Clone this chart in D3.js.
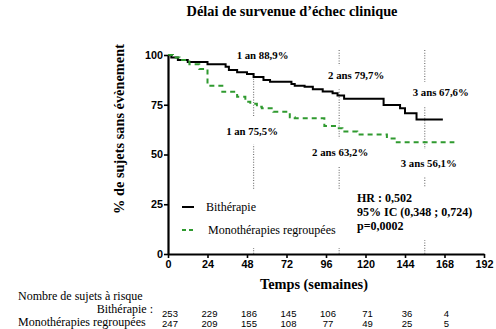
<!DOCTYPE html>
<html><head><meta charset="utf-8">
<script src="https://cdn.jsdelivr.net/npm/d3@7"></script>
<style>body{margin:0;background:#fff}svg{display:block}</style>
</head><body>
<svg id="c" width="496" height="329"></svg>
<script>
const title = "Délai de survenue d’échec clinique";
const yLabel = "% de sujets sans évènement";
const xLabel = "Temps (semaines)";
const xTicks = [0, 24, 48, 72, 96, 120, 144, 168, 192];
const yTicks = [0, 25, 50, 75, 100];

const seriesNames = ["Bithérapie", "Monothérapies regroupées"];
const bithTimes = [0, 2, 6, 12, 24, 35, 37, 42, 48, 52, 58, 62, 75, 77, 83, 88, 94, 100, 103, 107, 131, 141, 144, 151];
const bithSurv  = [100, 98.8, 97.5, 96.5, 95.3, 94.1, 92.5, 91.3, 90.5, 88.9, 87.4, 86.6, 85.4, 84.6, 84.1, 82.8, 81.6, 80.8, 79.7, 78.0, 74.9, 73.2, 70.7, 67.6];
const bithEnd = 167;
const monoTimes = [0, 3, 7, 13, 19, 24, 33, 42, 47, 50, 54, 57, 64, 74, 77, 95, 103, 106, 115, 133, 139];
const monoSurv  = [100, 98.8, 97.5, 95.3, 93, 84.6, 81.5, 79, 76.5, 75.5, 74, 73.2, 71.5, 68.7, 68.2, 64.3, 63.2, 61.5, 60.1, 58.1, 56.1];
const monoEnd = 174;

const markTimes = [52, 104, 156];
const upperLabels = ["1 an 88,9%", "2 ans 79,7%", "3 ans 67,6%"];
const upperValues = [88.9, 79.7, 67.6];
const lowerLabels = ["1 an 75,5%", "2 ans 63,2%", "3 ans 56,1%"];
const lowerValues = [75.5, 63.2, 56.1];

const statsLines = ["HR : 0,502", "95% IC (0,348 ; 0,724)", "p=0,0002"];

const riskTitle = "Nombre de sujets à risque";
const riskTimes = [0, 24, 48, 72, 96, 120, 144, 168];
const riskBith = [253, 229, 186, 145, 106, 71, 36, 4];
const riskMono = [247, 209, 155, 108, 77, 49, 25, 5];

const svg = d3.select("#c");
const x = d3.scaleLinear().domain([0, 192]).range([168, 484]);
const y = d3.scaleLinear().domain([0, 100]).range([254, 55]);
const serif = "'Liberation Serif', 'Times New Roman', serif";
const sans = "'Liberation Sans', Arial, sans-serif";
const green = "#2f9a2f";

function fitText(sel, base, target) {
  sel.attr("font-size", base);
  const w = sel.node().getComputedTextLength();
  sel.attr("font-size", (base * target / w).toFixed(2));
}

// title
fitText(svg.append("text").attr("x", 292).attr("y", 16).attr("text-anchor", "middle")
  .attr("font-family", serif).attr("font-weight", "bold").text(title), 14, 211);

// dotted reference lines
svg.append("g").selectAll("line").data(markTimes).join("line")
  .attr("x1", d => x(d)).attr("x2", d => x(d))
  .attr("y1", y(102.5)).attr("y2", y(0))
  .attr("stroke", "#777").attr("stroke-width", 1.2).attr("stroke-dasharray", "1,1.6");

// stats box
const sg = svg.append("g");
sg.append("rect").attr("x", 354).attr("y", 187).attr("width", 125).attr("height", 53).attr("fill", "#fff");
sg.selectAll("text").data(statsLines).join("text")
  .attr("x", 357).attr("y", (d, i) => 202 + i * 14)
  .attr("font-family", serif).attr("font-weight", "bold").attr("font-size", 12).text(d => d);

// label boxes and labels
function labelAt(txt, cx, baseline, padTop, padBot) {
  const g = svg.append("g");
  const tx = g.append("text").attr("x", cx).attr("y", baseline).attr("text-anchor", "middle")
    .attr("font-family", serif).attr("font-weight", "bold").attr("font-size", 10.8).text(txt);
  const bb = tx.node().getBBox();
  g.insert("rect", "text").attr("x", bb.x - 2).attr("y", bb.y - padTop).attr("width", bb.width + 4)
    .attr("height", bb.height + padTop + padBot).attr("fill", "#fff");
}
const upperOffsets = [[9, -18], [17, -16], [16, -23.5]];
const lowerOffsets = [[-1.5, 31], [1, 28], [4, 24.6]];
markTimes.forEach((t, i) => {
  labelAt(upperLabels[i], x(t) + upperOffsets[i][0], y(upperValues[i]) + upperOffsets[i][1], 4, i === 0 ? 12 : 8);
  labelAt(lowerLabels[i], x(t) + lowerOffsets[i][0], y(lowerValues[i]) + lowerOffsets[i][1], 8, 8);
});

// legend
const lg = svg.append("g");
lg.append("rect").attr("x", 176).attr("y", 190).attr("width", 168).attr("height", 58).attr("fill", "#fff");
lg.append("line").attr("x1", 182).attr("x2", 194).attr("y1", 207).attr("y2", 207).attr("stroke", "#000").attr("stroke-width", 2);
lg.append("line").attr("x1", 182).attr("x2", 194).attr("y1", 230).attr("y2", 230).attr("stroke", green).attr("stroke-width", 2).attr("stroke-dasharray", "4,3");
lg.append("text").attr("x", 206).attr("y", 211).attr("font-family", serif).attr("font-size", 12).text(seriesNames[0]);
lg.append("text").attr("x", 208).attr("y", 234).attr("font-family", serif).attr("font-size", 12).text(seriesNames[1]);

// curves
function stepData(times, surv, end) {
  const pts = times.map((t, i) => [t, surv[i]]);
  pts.push([end, surv[surv.length - 1]]);
  return pts;
}
const line = d3.line().x(d => x(d[0])).y(d => y(d[1])).curve(d3.curveStepAfter);
svg.append("path").datum(stepData(bithTimes, bithSurv, bithEnd)).attr("d", line)
  .attr("fill", "none").attr("stroke", "#000").attr("stroke-width", 2);
svg.append("path").datum(stepData(monoTimes, monoSurv, monoEnd)).attr("d", line)
  .attr("fill", "none").attr("stroke", green).attr("stroke-width", 2).attr("stroke-dasharray", "5,4");

// axes
const xa = svg.append("g").attr("transform", `translate(0,${y(0)})`)
  .call(d3.axisBottom(x).tickValues(xTicks).tickSize(4).tickPadding(2).tickSizeOuter(0));
const ya = svg.append("g").attr("transform", `translate(${x(0)},0)`)
  .call(d3.axisLeft(y).tickValues(yTicks).tickSize(4).tickPadding(1).tickSizeOuter(0));
[xa, ya].forEach(a => {
  a.select(".domain").attr("stroke", "#000").attr("stroke-width", 2.2);
  a.selectAll(".tick line").attr("stroke", "#000").attr("stroke-width", 1.6);
  a.selectAll("text").attr("font-family", sans).attr("font-weight", "bold").attr("font-size", 10.8).attr("fill", "#000");
});

// axis titles
fitText(svg.append("text").attr("x", 314).attr("y", 289).attr("text-anchor", "middle")
  .attr("font-family", serif).attr("font-weight", "bold").text(xLabel), 13.5, 108);
fitText(svg.append("text").attr("transform", "translate(124,129) rotate(-90)").attr("text-anchor", "middle")
  .attr("font-family", serif).attr("font-weight", "bold").text(yLabel), 13.5, 170);

// risk table
svg.append("text").attr("x", 18).attr("y", 300).attr("font-family", serif).attr("font-size", 12).text(riskTitle);
svg.append("text").attr("x", 153).attr("y", 313).attr("text-anchor", "end").attr("font-family", serif).attr("font-size", 12).text(seriesNames[0] + " :");
svg.append("text").attr("x", 18).attr("y", 326).attr("font-family", serif).attr("font-size", 12).text(seriesNames[1]);
svg.append("g").selectAll("text").data(riskBith).join("text")
  .attr("x", (d, i) => x(riskTimes[i]) + 2).attr("y", 317).attr("text-anchor", "middle")
  .attr("font-family", sans).attr("font-size", 9.5).text(d => d);
svg.append("g").selectAll("text").data(riskMono).join("text")
  .attr("x", (d, i) => x(riskTimes[i]) + 2).attr("y", 327).attr("text-anchor", "middle")
  .attr("font-family", sans).attr("font-size", 9.5).text(d => d);
</script>
</body></html>
